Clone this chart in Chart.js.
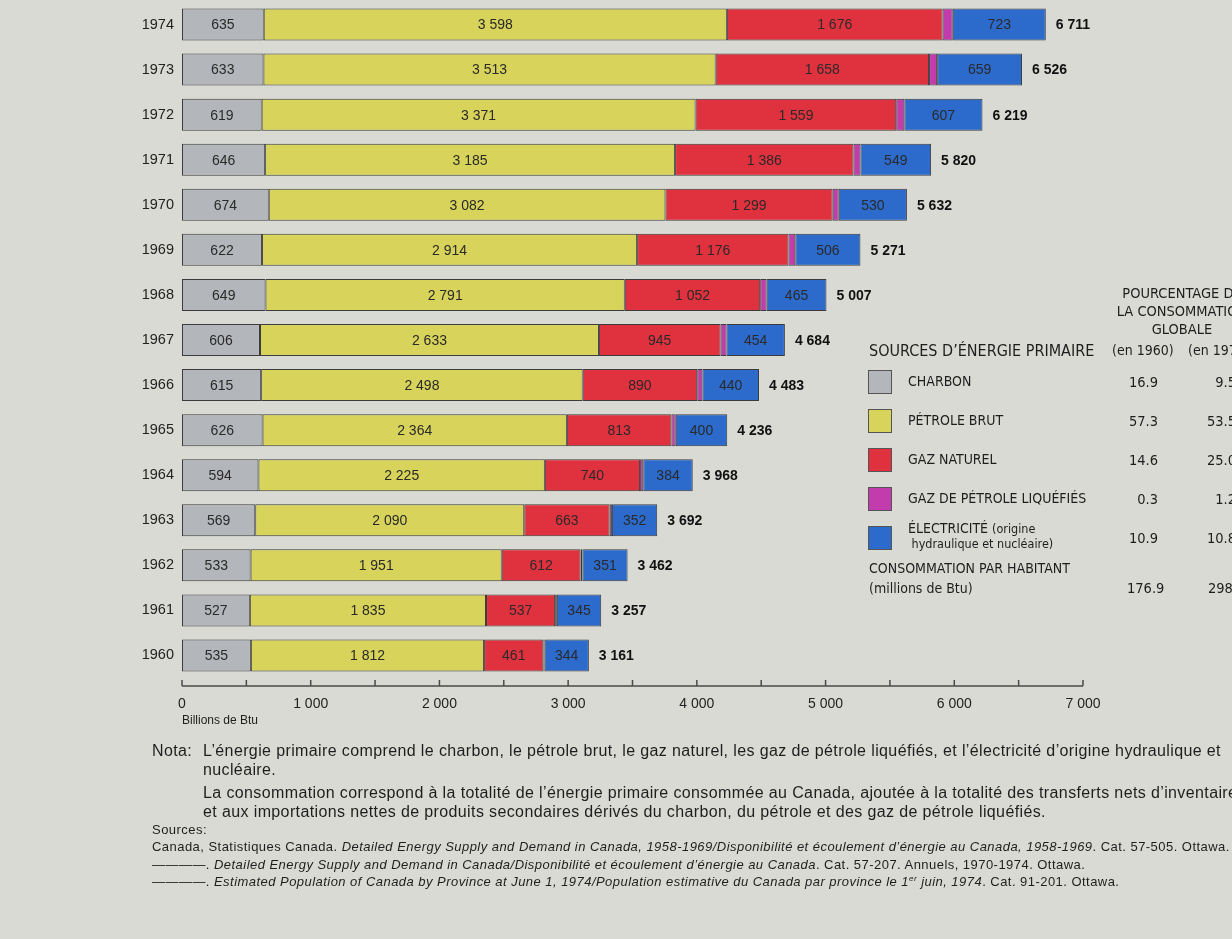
<!DOCTYPE html>
<html>
<head>
<meta charset="utf-8">
<script src="https://cdn.jsdelivr.net/npm/chart.js@4/dist/chart.umd.min.js"></script>
<style>
  html, body { margin: 0; padding: 0; background: #dadad4; }
  #wrap { position: relative; width: 1232px; height: 939px; overflow: hidden; background: #dadad4;
          font-family: "Liberation Sans", Arial, sans-serif; color: #1e1e1e; }
  #chart { position: absolute; left: 0; top: 0; width: 1232px; height: 939px; }
  .t { position: absolute; white-space: nowrap; }
  .cond { font-family: "Liberation Sans Narrow", "DejaVu Sans Condensed", "Liberation Sans", sans-serif; font-stretch: condensed; }
  .sw { position: absolute; width: 24px; height: 24px; border: 1px solid #555; box-sizing: border-box; }
  .note { font-size: 16px; letter-spacing: 0.38px; }
  .src { font-size: 13px; letter-spacing: 0.46px; }
</style>
</head>
<body>
<div id="wrap">
  <div id="chart"><canvas id="c"></canvas></div>

  <div class="t" style="left:182px; top:713px; font-size:12px;">Billions de Btu</div>

  <!-- tableau / légende -->
  <div class="t cond" style="left:1102px; width:160px; top:284px; font-size:14.5px; line-height:18px; text-align:center;">POURCENTAGE DE<br>LA CONSOMMATION<br>GLOBALE</div>
  <div class="t cond" style="left:869px; top:341px; font-size:16px;">SOURCES D’ÉNERGIE PRIMAIRE</div>
  <div class="t cond" style="left:1112px; top:342px; font-size:14px;">(en 1960)</div>
  <div class="t cond" style="left:1188px; top:342px; font-size:14px;">(en 1974)</div>
  <div class="t cond" style="left:869px; top:560px; font-size:14px;">CONSOMMATION PAR HABITANT</div>
  <div class="t cond" style="left:869px; top:580px; font-size:14px;">(millions de Btu)</div>

  <!-- notes -->
  <div class="t note" style="left:152px; top:742px;">Nota:</div>
  <div class="t note" style="left:203px; top:742px;">L’énergie primaire comprend le charbon, le pétrole brut, le gaz naturel, les gaz de pétrole liquéfiés, et l’électricité d’origine hydraulique et</div>
  <div class="t note" style="left:203px; top:761px;">nucléaire.</div>
  <div class="t note" style="left:203px; top:784px;">La consommation correspond à la totalité de l’énergie primaire consommée au Canada, ajoutée à la totalité des transferts nets d’inventaires</div>
  <div class="t note" style="left:203px; top:803px;">et aux importations nettes de produits secondaires dérivés du charbon, du pétrole et des gaz de pétrole liquéfiés.</div>
  <div class="t src" style="left:152px; top:822px;">Sources:</div>
  <div class="t src" style="left:152px; top:839px;">Canada, Statistiques Canada. <i>Detailed Energy Supply and Demand in Canada, 1958-1969/Disponibilité et écoulement d’énergie au Canada, 1958-1969</i>. Cat. 57-505. Ottawa.</div>
  <div class="t src" style="left:152px; top:857px;">————. <i>Detailed Energy Supply and Demand in Canada/Disponibilité et écoulement d’énergie au Canada</i>. Cat. 57-207. Annuels, 1970-1974. Ottawa.</div>
  <div class="t src" style="left:152px; top:874px;">————. <i>Estimated Population of Canada by Province at June 1, 1974/Population estimative du Canada par province le 1<sup style="font-size:8px">er</sup> juin, 1974</i>. Cat. 91-201. Ottawa.</div>
</div>

<script>
// données (billions de Btu), de 1974 à 1960
const years = ["1974", "1973", "1972", "1971", "1970", "1969", "1968", "1967", "1966", "1965", "1964", "1963", "1962", "1961", "1960"];
const charbon = [635, 633, 619, 646, 674, 622, 649, 606, 615, 626, 594, 569, 533, 527, 535];
const petrole = [3598, 3513, 3371, 3185, 3082, 2914, 2791, 2633, 2498, 2364, 2225, 2090, 1951, 1835, 1812];
const gazNaturel = [1676, 1658, 1559, 1386, 1299, 1176, 1052, 945, 890, 813, 740, 663, 612, 537, 461];
const gpl = [79, 63, 63, 54, 47, 53, 50, 46, 40, 33, 25, 18, 15, 13, 9];
const electricite = [723, 659, 607, 549, 530, 506, 465, 454, 440, 400, 384, 352, 351, 345, 344];
const totaux = [6711, 6526, 6219, 5820, 5632, 5271, 5007, 4684, 4483, 4236, 3968, 3692, 3462, 3257, 3161];
const xTicks = [0, 1000, 2000, 3000, 4000, 5000, 6000, 7000];

// tableau de droite
const sources = ["CHARBON", "PÉTROLE BRUT", "GAZ NATUREL", "GAZ DE PÉTROLE LIQUÉFIÉS", "ÉLECTRICITÉ"];
const pct1960 = ["16.9", "57.3", "14.6", "0.3", "10.9"];
const pct1974 = ["9.5", "53.5", "25.0", "1.2", "10.8"];
const parHabitant = ["176.9", "298.9"];

const couleurs = ["#b3b6ba", "#d8d35a", "#e0323e", "#c23cae", "#2c6acb"];

// légende en HTML
const wrap = document.getElementById("wrap");
const rowY = [382, 421, 460, 499, 538];
sources.forEach((s, i) => {
  const sw = document.createElement("div");
  sw.className = "sw";
  sw.style.left = "868px";
  sw.style.top = (rowY[i] - 12) + "px";
  sw.style.background = couleurs[i];
  wrap.appendChild(sw);

  const lab = document.createElement("div");
  lab.className = "t cond";
  lab.style.left = "908px";
  lab.style.fontSize = "14px";
  lab.style.lineHeight = "15px";
  if (i === 4) {
    lab.style.top = (rowY[i] - 17) + "px";
    lab.innerHTML = s + " <span style='font-size:12.5px'>(origine</span><br><span style='font-size:12.5px'>&nbsp;hydraulique et nucléaire)</span>";
  } else {
    lab.style.top = (rowY[i] - 8) + "px";
    lab.textContent = s;
  }
  wrap.appendChild(lab);

  const a = document.createElement("div");
  a.className = "t cond";
  a.style.right = (1232 - 1158) + "px";
  a.style.top = (rowY[i] - 8) + "px";
  a.style.fontSize = "14.5px";
  a.textContent = pct1960[i];
  wrap.appendChild(a);

  const b = document.createElement("div");
  b.className = "t cond";
  b.style.right = "-4px";
  b.style.top = (rowY[i] - 8) + "px";
  b.style.fontSize = "14.5px";
  b.textContent = pct1974[i];
  wrap.appendChild(b);
});
[[1127, parHabitant[0]], [1208, parHabitant[1]]].forEach(([x, v]) => {
  const d = document.createElement("div");
  d.className = "t cond";
  d.style.left = x + "px";
  d.style.top = "580px";
  d.style.fontSize = "14.5px";
  d.textContent = v;
  wrap.appendChild(d);
});

const fmt = (v) => String(v).replace(/\B(?=(\d{3})+(?!\d))/g, " ");

// étiquettes dans les barres + totaux
const etiquettes = {
  id: "etiquettes",
  afterDatasetsDraw(chart) {
    const ctx = chart.ctx;
    ctx.save();
    ctx.textBaseline = "middle";
    chart.data.datasets.forEach((ds, di) => {
      if (di === 3) return;
      const meta = chart.getDatasetMeta(di);
      meta.data.forEach((el, i) => {
        ctx.fillStyle = "#2a2a2a";
        ctx.font = "14px 'Liberation Sans', Arial, sans-serif";
        ctx.textAlign = "center";
        ctx.fillText(fmt(ds.data[i]), (el.x + el.base) / 2, el.y + 1);
      });
    });
    const last = chart.getDatasetMeta(4);
    last.data.forEach((el, i) => {
      ctx.fillStyle = "#111";
      ctx.font = "bold 14px 'Liberation Sans', Arial, sans-serif";
      ctx.textAlign = "left";
      ctx.fillText(fmt(totaux[i]), el.x + 10, el.y + 1);
    });
    ctx.restore();
  }
};

// axe horizontal avec graduations vers le haut
const axe = {
  id: "axe",
  afterDraw(chart) {
    const ctx = chart.ctx;
    const xs = chart.scales.x;
    const y = 686;
    ctx.save();
    ctx.strokeStyle = "#4a4a4a";
    ctx.lineWidth = 1.5;
    ctx.beginPath();
    ctx.moveTo(xs.getPixelForValue(0), y);
    ctx.lineTo(xs.getPixelForValue(7000), y);
    for (let v = 0; v <= 7000; v += 500) {
      const px = xs.getPixelForValue(v);
      ctx.moveTo(px, y);
      ctx.lineTo(px, y - 6);
    }
    ctx.stroke();
    ctx.restore();
  }
};

const mk = (label, data, i) => ({
  label, data,
  backgroundColor: couleurs[i],
  borderColor: "#3c3c3c",
  borderWidth: 1,
  borderSkipped: false,
  barPercentage: 0.71,
  categoryPercentage: 1,
});

new Chart(document.getElementById("c"), {
  type: "bar",
  data: {
    labels: years,
    datasets: [
      mk("Charbon", charbon, 0),
      mk("Pétrole brut", petrole, 1),
      mk("Gaz naturel", gazNaturel, 2),
      mk("Gaz de pétrole liquéfiés", gpl, 3),
      mk("Électricité", electricite, 4),
    ],
  },
  options: {
    indexAxis: "y",
    responsive: true,
    maintainAspectRatio: false,
    animation: false,
    layout: { padding: { top: 2, right: 149, left: 0, bottom: 0 } },
    scales: {
      x: {
        stacked: true,
        min: 0,
        max: 7000,
        grid: { display: false, drawTicks: false },
        border: { display: false },
        afterFit: (s) => { s.height = 261; },
        afterBuildTicks: (s) => { s.ticks = xTicks.map((v) => ({ value: v })); },
        ticks: {
          padding: 18,
          color: "#222",
          font: { size: 14, family: "'Liberation Sans', Arial, sans-serif" },
          callback: (v) => fmt(v),
        },
      },
      y: {
        stacked: true,
        grid: { display: false, drawTicks: false },
        border: { display: false },
        afterFit: (s) => { s.width = 182; s.paddingTop = 0; s.paddingBottom = 0; },
        ticks: {
          padding: 8,
          color: "#222",
          font: { size: 14.5, family: "'Liberation Sans', Arial, sans-serif" },
        },
      },
    },
    plugins: {
      legend: { display: false },
      tooltip: { enabled: false },
    },
  },
  plugins: [etiquettes, axe],
});
</script>
</body>
</html>
